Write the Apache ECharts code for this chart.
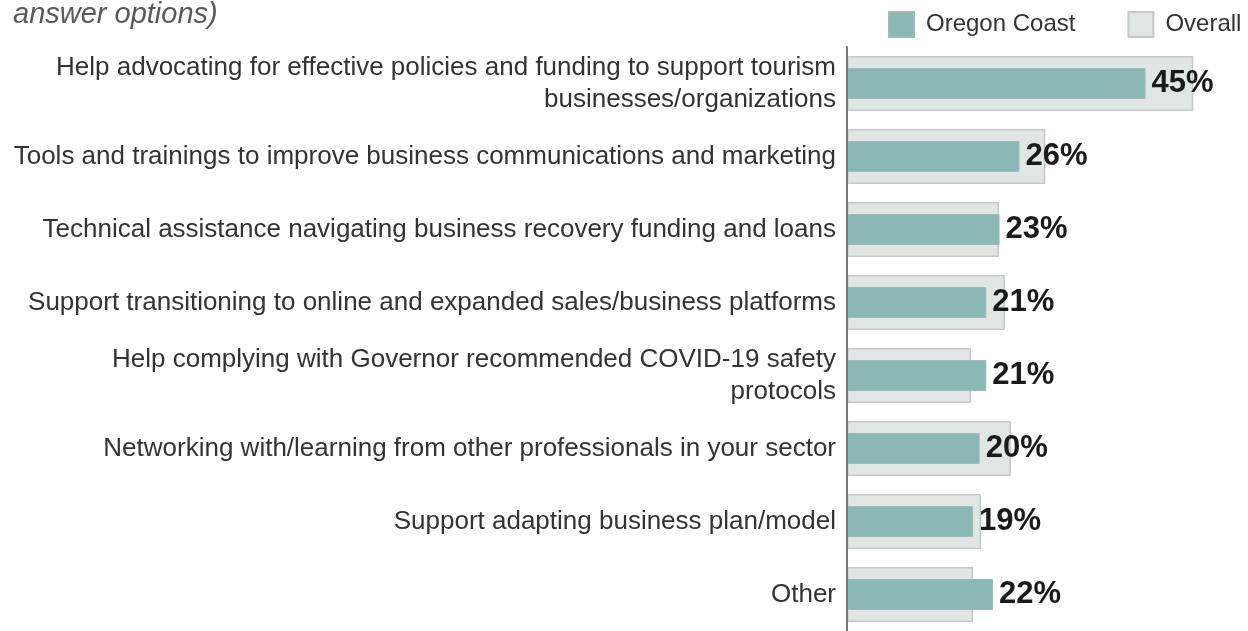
<!DOCTYPE html>
<html>
<head>
<meta charset="utf-8">
<script src="https://cdn.jsdelivr.net/npm/echarts@6/dist/echarts.min.js"></script>
<style>
  html, body { margin: 0; padding: 0; background: #fff; }
  #chart { width: 1248px; height: 631px; }
</style>
</head>
<body>
<div id="chart"></div>
<script>
// categories, top to bottom
const categories = [
    'Help advocating for effective policies and funding to support tourism\nbusinesses/organizations',
    'Tools and trainings to improve business communications and marketing',
    'Technical assistance navigating business recovery funding and loans',
    'Support transitioning to online and expanded sales/business platforms',
    'Help complying with Governor recommended COVID-19 safety\nprotocols',
    'Networking with/learning from other professionals in your sector',
    'Support adapting business plan/model',
    'Other'
];

// Oregon Coast share (%)
const oregonCoast = [45, 26, 23, 21, 21, 20, 19, 22];

// Overall share (%)
const overall = [52.2, 29.9, 22.9, 23.8, 18.7, 24.7, 20.2, 19.0];

const chart = echarts.init(document.getElementById('chart'));

const option = {
    animation: false,
    title: {
        text: 'answer options)',
        left: 8,
        top: -5,
        textStyle: {
            fontFamily: 'Liberation Sans',
            fontStyle: 'italic',
            fontWeight: 'normal',
            fontSize: 29,
            color: '#595959'
        }
    },
    legend: {
        data: ['Oregon Coast', 'Overall'],
        icon: 'rect',
        left: 888,
        top: 11,
        width: 380,
        padding: 0,
        itemWidth: 25,
        itemHeight: 25,
        itemGap: 52,
        textStyle: {
            fontFamily: 'Liberation Sans',
            fontSize: 24,
            color: '#333333',
            padding: [0, 0, 0, 7]
        }
    },
    grid: {
        left: 847,
        top: 47,
        width: 398,
        height: 587,
        containLabel: false
    },
    xAxis: {
        type: 'value',
        min: 0,
        max: 60,
        show: false
    },
    yAxis: [
        {
            type: 'category',
            data: categories,
            inverse: true,
            z: 5,
            axisTick: { show: false },
            axisLine: {
                lineStyle: { color: '#7a7a7a', width: 2 }
            },
            axisLabel: {
                margin: 11,
                fontFamily: 'Liberation Sans',
                fontSize: 26,
                lineHeight: 32,
                color: '#333333',
                align: 'right'
            }
        },
        {
            // twin axis so the narrow bars centre on the same rows
            type: 'category',
            data: categories,
            inverse: true,
            show: false
        }
    ],
    series: [
        {
            name: 'Overall',
            type: 'bar',
            yAxisIndex: 0,
            data: overall,
            barWidth: 55,
            itemStyle: {
                color: '#e1e5e4',
                borderColor: '#c6c9c8',
                borderWidth: 1.5
            }
        },
        {
            name: 'Oregon Coast',
            type: 'bar',
            yAxisIndex: 1,
            data: oregonCoast,
            barWidth: 31,
            z: 3,
            itemStyle: {
                color: '#8ab9b5',
                borderColor: '#a3b9b6',
                borderWidth: 1
            },
            label: {
                show: true,
                position: 'right',
                distance: 6,
                formatter: '{c}%',
                fontFamily: 'Liberation Sans',
                fontSize: 31,
                fontWeight: 'bold',
                color: '#1a1a1a'
            }
        }
    ]
};

chart.setOption(option);
</script>
</body>
</html>
